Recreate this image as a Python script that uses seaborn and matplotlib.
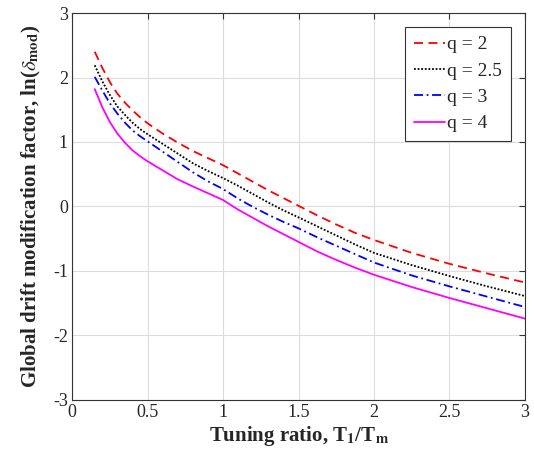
import matplotlib
matplotlib.use("Agg")
import matplotlib.pyplot as plt
import pandas as pd
import seaborn as sns

# Data
tuning_ratio = [0.15, 0.2, 0.25, 0.3, 0.35, 0.4, 0.45, 0.5, 0.6, 0.7, 0.8, 0.9, 1.0,
                1.1, 1.2, 1.3, 1.4, 1.5, 1.625, 1.75, 1.875, 2.0, 2.25, 2.5, 2.75, 3.0]
q_2 = [2.40, 2.15, 1.93, 1.75, 1.61, 1.49, 1.385, 1.29, 1.13, 0.99, 0.86, 0.75, 0.64,
       0.51, 0.38, 0.25, 0.13, 0.01, -0.14, -0.28, -0.41, -0.52, -0.72, -0.89, -1.04, -1.18]
q_25 = [2.19, 1.94, 1.73, 1.55, 1.42, 1.30, 1.20, 1.12, 0.97, 0.82, 0.67, 0.55, 0.44,
        0.32, 0.19, 0.06, -0.06, -0.17, -0.31, -0.45, -0.59, -0.72, -0.91, -1.08, -1.24, -1.39]
q_3 = [2.01, 1.80, 1.60, 1.44, 1.30, 1.18, 1.09, 1.01, 0.85, 0.69, 0.53, 0.39, 0.27,
       0.12, -0.01, -0.13, -0.24, -0.34, -0.48, -0.61, -0.74, -0.87, -1.07, -1.24, -1.40, -1.56]
q_4 = [1.82, 1.54, 1.31, 1.13, 0.99, 0.87, 0.78, 0.70, 0.56, 0.42, 0.31, 0.205, 0.10,
       -0.05, -0.18, -0.31, -0.43, -0.55, -0.70, -0.83, -0.95, -1.06, -1.25, -1.42, -1.58, -1.74]

labels = ["q = 2", "q = 2.5", "q = 3", "q = 4"]
colors = ["#ff0000", "#000000", "#0000ff", "#ff00ff"]
styles = [(0, (5, 3)), (0, (1, 1)), (0, (5, 2, 1, 2)), "-"]

df = pd.DataFrame({"ratio": tuning_ratio * 4,
                   "value": q_2 + q_25 + q_3 + q_4,
                   "q": sum([[l] * len(tuning_ratio) for l in labels], [])})

sns.set_style("white")
plt.rcParams["font.family"] = ["Liberation Serif", "DejaVu Serif"]
plt.rcParams["mathtext.fontset"] = "stix"

fig, ax = plt.subplots(figsize=(5.34, 4.66), dpi=100)
fig.subplots_adjust(left=0.135, right=0.983, bottom=0.142, top=0.972)

for lab, col, ls in zip(labels, colors, styles):
    sns.lineplot(data=df[df["q"] == lab], x="ratio", y="value", ax=ax,
                 color=col, linestyle=ls, linewidth=1.3, label=lab)

ax.set_xlim(0, 3)
ax.set_ylim(-3, 3)
ax.set_xticks([0, 0.5, 1, 1.5, 2, 2.5, 3])
ax.set_xticklabels(["0", "0.5", "1", "1.5", "2", "2.5", "3"])
ax.set_yticks([-3, -2, -1, 0, 1, 2, 3])
ax.set_yticklabels(["-3", "-2", "-1", "0", "1", "2", "3"])
ax.grid(True, color="#dcdcdc", linewidth=0.8)
ax.tick_params(direction="in", top=True, right=True, length=4,
               labelsize=13, color="#333333", pad=3)
for sp in ax.spines.values():
    sp.set_color("#333333")
    sp.set_linewidth(0.8)

ax.set_xlabel(r"Tuning ratio, T$_\mathbf{1}$/T$_\mathbf{m}$",
              fontsize=15, fontweight="bold", labelpad=2)
ax.set_ylabel(r"Global drift modification factor, ln($\delta_\mathbf{mod}$)",
              fontsize=15, fontweight="bold", labelpad=7)

leg = ax.legend(loc="upper right", bbox_to_anchor=(0.969, 0.964),
                borderaxespad=0, fontsize=14, handlelength=1.6,
                handletextpad=0.1, labelspacing=0.45, borderpad=0.45,
                fancybox=False, framealpha=1, edgecolor="#333333")
leg.get_frame().set_linewidth(0.8)

fig.savefig("out.png", dpi=100)
